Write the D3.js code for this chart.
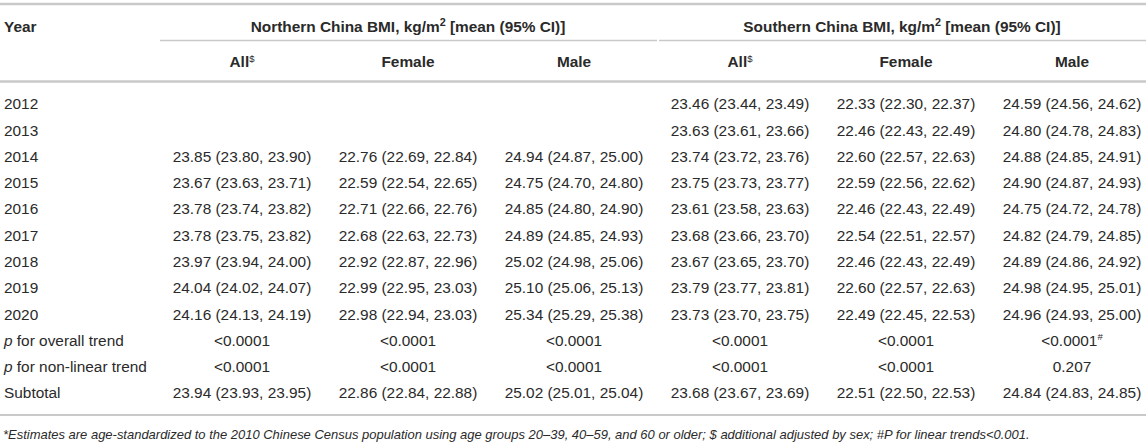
<!DOCTYPE html>
<html><head><meta charset="utf-8">
<script src="https://cdn.jsdelivr.net/npm/d3@7"></script>
<style>
html,body{margin:0;padding:0;background:#fff;}
svg{display:block;font-family:"Liberation Sans",Arial,Helvetica,sans-serif;}
</style></head><body>
<svg id="c" width="1146" height="445"></svg>
<script>
const years = ["2012","2013","2014","2015","2016","2017","2018","2019","2020"];
const extraRows = ["p for overall trend","p for non-linear trend","Subtotal"];
const groups = ["Northern China BMI, kg/m", "Southern China BMI, kg/m"];
const subHeaders = ["All","Female","Male","All","Female","Male"];
// [mean, lower, upper] per year; null = no data
const northAll = [null,null,[23.85,23.80,23.90],[23.67,23.63,23.71],[23.78,23.74,23.82],[23.78,23.75,23.82],[23.97,23.94,24.00],[24.04,24.02,24.07],[24.16,24.13,24.19]];
const northFemale = [null,null,[22.76,22.69,22.84],[22.59,22.54,22.65],[22.71,22.66,22.76],[22.68,22.63,22.73],[22.92,22.87,22.96],[22.99,22.95,23.03],[22.98,22.94,23.03]];
const northMale = [null,null,[24.94,24.87,25.00],[24.75,24.70,24.80],[24.85,24.80,24.90],[24.89,24.85,24.93],[25.02,24.98,25.06],[25.10,25.06,25.13],[25.34,25.29,25.38]];
const southAll = [[23.46,23.44,23.49],[23.63,23.61,23.66],[23.74,23.72,23.76],[23.75,23.73,23.77],[23.61,23.58,23.63],[23.68,23.66,23.70],[23.67,23.65,23.70],[23.79,23.77,23.81],[23.73,23.70,23.75]];
const southFemale = [[22.33,22.30,22.37],[22.46,22.43,22.49],[22.60,22.57,22.63],[22.59,22.56,22.62],[22.46,22.43,22.49],[22.54,22.51,22.57],[22.46,22.43,22.49],[22.60,22.57,22.63],[22.49,22.45,22.53]];
const southMale = [[24.59,24.56,24.62],[24.80,24.78,24.83],[24.88,24.85,24.91],[24.90,24.87,24.93],[24.75,24.72,24.78],[24.82,24.79,24.85],[24.89,24.86,24.92],[24.98,24.95,25.01],[24.96,24.93,25.00]];
const subtotals = [[23.94,23.93,23.95],[22.86,22.84,22.88],[25.02,25.01,25.04],[23.68,23.67,23.69],[22.51,22.50,22.53],[24.84,24.83,24.85]];
const pOverall = ["<0.0001","<0.0001","<0.0001","<0.0001","<0.0001","<0.0001"];
const pOverallMark = ["","","","","","#"];
const pNonLinear = ["<0.0001","<0.0001","<0.0001","<0.0001","<0.0001","0.207"];
const footnote = "*Estimates are age-standardized to the 2010 Chinese Census population using age groups 20–39, 40–59, and 60 or older; $ additional adjusted by sex; #P for linear trends<0.001.";

const series = [northAll,northFemale,northMale,southAll,southFemale,southMale];
const colKeys = d3.range(6);
const rowKeys = years.concat(extraRows);

const svg = d3.select("#c");
const x = d3.scalePoint().domain(colKeys).range([242,1072]);
const y = d3.scalePoint().domain(rowKeys).range([104,393]);
const gx = d3.scalePoint().domain([0,1]).range([408,902]);

const TXT = "#2a2a2a", LINE = "#c9c9c9", FS = 15.4;
const fmt = d => d[0].toFixed(2) + " (" + d[1].toFixed(2) + ", " + d[2].toFixed(2) + ")";

// rules
const hl = (x1,x2,yy,w) => svg.append("line").attr("x1",x1).attr("x2",x2).attr("y1",yy).attr("y2",yy).attr("stroke",LINE).attr("stroke-width",w);
hl(0,1146,4,2.5);
hl(160,657,40.5,1.5);
hl(659,1146,40.5,1.5);
hl(0,1146,81.5,2.5);
hl(0,1146,415,2);

// header
svg.append("text").attr("x",4).attr("y",27).attr("dy","0.35em").attr("font-size",FS).attr("font-weight","bold").attr("fill",TXT).text("Year");
groups.forEach((g,i)=>{
  const t = svg.append("text").attr("x",gx(i)).attr("y",27).attr("dy","0.35em").attr("text-anchor","middle")
    .attr("font-size",FS).attr("font-weight","bold").attr("fill",TXT);
  t.append("tspan").text(g);
  t.append("tspan").attr("font-size",FS*0.7).attr("dy","-0.55em").text("2");
  t.append("tspan").attr("dy","0.385em").text(" [mean (95% CI)]");
});
subHeaders.forEach((s,i)=>{
  const t = svg.append("text").attr("x",x(i)).attr("y",62).attr("dy","0.35em").attr("text-anchor","middle")
    .attr("font-size",FS).attr("font-weight","bold").attr("fill",TXT);
  t.append("tspan").text(s);
  if(s==="All") t.append("tspan").attr("font-size",FS*0.62).attr("font-weight","normal").attr("dy","-0.6em").text("$");
});

// row labels
rowKeys.forEach(r=>{
  const t = svg.append("text").attr("x",4).attr("y",y(r)).attr("dy","0.35em").attr("font-size",FS).attr("fill",TXT);
  if(r.startsWith("p ")){
    t.append("tspan").attr("font-style","italic").text("p");
    t.append("tspan").text(r.slice(1));
  } else t.text(r);
});

// body cells
series.forEach((s,ci)=>{
  s.forEach((d,ri)=>{
    if(!d) return;
    svg.append("text").attr("x",x(ci)).attr("y",y(years[ri])).attr("dy","0.35em").attr("text-anchor","middle")
      .attr("font-size",FS).attr("fill",TXT).text(fmt(d));
  });
});
pOverall.forEach((p,ci)=>{
  const t = svg.append("text").attr("x",x(ci)).attr("y",y(extraRows[0])).attr("dy","0.35em").attr("text-anchor","middle")
    .attr("font-size",FS).attr("fill",TXT);
  t.append("tspan").text(p);
  if(pOverallMark[ci]) t.append("tspan").attr("font-size",FS*0.62).attr("dy","-0.6em").text(pOverallMark[ci]);
});
pNonLinear.forEach((p,ci)=>{
  svg.append("text").attr("x",x(ci)).attr("y",y(extraRows[1])).attr("dy","0.35em").attr("text-anchor","middle")
    .attr("font-size",FS).attr("fill",TXT).text(p);
});
subtotals.forEach((d,ci)=>{
  svg.append("text").attr("x",x(ci)).attr("y",y(extraRows[2])).attr("dy","0.35em").attr("text-anchor","middle")
    .attr("font-size",FS).attr("fill",TXT).text(fmt(d));
});

// footnote
const fn = svg.append("text").attr("x",3).attr("y",434).attr("dy","0.35em").attr("font-size",14)
  .attr("font-style","italic").attr("fill",TXT).text(footnote);
const w = fn.node().getComputedTextLength();
if (w > 0) fn.attr("font-size", 14 * 1027 / w);
</script>
</body></html>
